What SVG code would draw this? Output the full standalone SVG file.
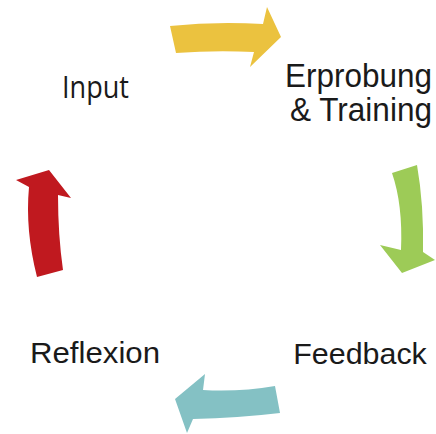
<svg xmlns="http://www.w3.org/2000/svg" width="436" height="434" viewBox="0 0 436 434">
<style>
.lbl{font-family:"Liberation Sans",Arial,sans-serif;fill:#1a1a1a}
.big{font-size:34px}
.mid{font-size:30px}
.inp{font-family:"Open Sans","Liberation Sans",sans-serif;font-size:30.5px;fill:#1a1a1a}
</style>
<rect width="436" height="434" fill="#ffffff"/>
<g id="connectors">
<path id="arrow-input-erprobung" d="M170,26 Q216,21 263,24 L267,7 L281,37 L250,67 L254,52 Q215,50 176,53 Z" fill="#EBC23F"/>
<path id="arrow-erprobung-feedback" d="M392,173 L417,165 Q424,205 423,252 L435,260 L402,273 L380,245 L401,250 Q403,205 392,173 Z" fill="#9DCB57"/>
<path id="arrow-feedback-reflexion" d="M275,386 Q240,392 203,390 L205,374 L175,399 L187,433 L193,419 Q238,418 280,413 Z" fill="#84C1C4"/>
<path id="arrow-reflexion-input" d="M37,277 Q25,230 29,187 L16,180 L49,170 L71,198 L58,195 Q58,235 63,270 Z" fill="#C0191F"/>
</g>
<g id="input"><text class="inp" x="62" y="97.7" textLength="67" lengthAdjust="spacingAndGlyphs">Input</text></g>
<g id="erprobung"><text class="lbl big" x="285" y="86.5" textLength="147" lengthAdjust="spacingAndGlyphs">Erprobung</text><text class="lbl big" x="290" y="120.5" textLength="142" lengthAdjust="spacingAndGlyphs">&amp; Training</text></g>
<g id="feedback"><text class="lbl mid" x="293.3" y="363.5" textLength="133.5" lengthAdjust="spacingAndGlyphs">Feedback</text></g>
<g id="reflexion"><text class="lbl mid" x="30" y="363.3" textLength="130" lengthAdjust="spacingAndGlyphs">Reflexion</text></g>
</svg>
